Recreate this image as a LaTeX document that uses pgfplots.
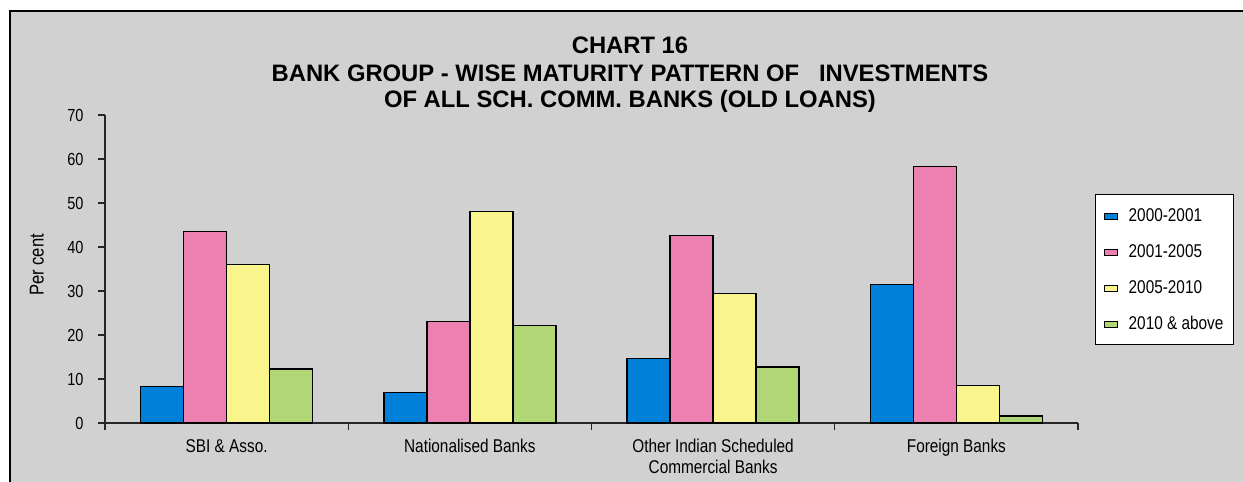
\documentclass[border=0pt]{standalone}
\usepackage{pgfplots}
\pgfplotsset{compat=1.18}
\usepackage{fontspec}
\setmainfont{Liberation Sans}
\newfontfamily\narrow[FakeStretch=0.83]{Liberation Sans}
\definecolor{bg}{RGB}{209,209,209}
\definecolor{cblue}{RGB}{0,128,216}
\definecolor{cpink}{RGB}{236,128,176}
\definecolor{cyellow}{RGB}{250,244,140}
\definecolor{cgreen}{RGB}{176,214,118}
\begin{document}
\begin{tikzpicture}[x=1pt,y=1pt]
\clip (0,0) rectangle (1243,482);
\fill[white] (0,0) rectangle (1243,482);
\draw[black, line width=1.5pt, fill=bg] (10,471) rectangle (1260,-20);
\node[anchor=base, font=\fontsize{23.8}{26}\selectfont\bfseries] at (630,428) {CHART 16};
\node[anchor=base, font=\fontsize{23.8}{26}\selectfont\bfseries] at (630,400) {BANK GROUP - WISE MATURITY PATTERN OF\ \ \ INVESTMENTS};
\node[anchor=base, font=\fontsize{23.8}{26}\selectfont\bfseries] at (630,374) {OF ALL SCH. COMM. BANKS (OLD LOANS)};
\begin{axis}[
  at={(105pt,59pt)}, anchor=south west,
  scale only axis, width=973pt, height=308pt,
  ymin=0, ymax=70, xmin=-0.5, xmax=3.5,
  ytick={0,10,...,70},
  xtick={-0.5,0.5,1.5,2.5,3.5},
  xticklabels={,,,,},
  extra x ticks={0,1,2,3},
  extra x tick labels={SBI \& Asso.,Nationalised Banks,{Other Indian Scheduled\\Commercial Banks},Foreign Banks},
  extra x tick style={major tick length=0pt, tick label style={align=center, font=\narrow\fontsize{18.5}{20.5}\selectfont, yshift=-13pt}},
  axis x line=bottom, axis y line=left,
  axis line style={-, line width=1.2pt, black!85},
  tick style={line width=1.2pt, black!85},
  tick align=outside, major tick length=7pt,
  /pgf/number format/assume math mode=true,
  yticklabel style={font=\narrow\fontsize{17.5}{19}\selectfont, xshift=-11pt},
  ylabel={Per cent},
  every axis y label/.style={at={(axis description cs:-0.07,0.513)}, rotate=90, anchor=center, font=\narrow\fontsize{20}{22}\selectfont},
  ybar=0pt, bar width=43pt,
  legend style={at={(1.0175,0.7435)}, anchor=north west, fill=white, draw=black, line width=1.2pt,
    font=\narrow\fontsize{18.5}{20}\selectfont, row sep=18pt, inner xsep=8pt, inner ysep=12pt,
    cells={anchor=west}, nodes={inner sep=2pt, text height=12.5pt, text depth=1.5pt}},
  legend image code/.code={\draw[#1, line width=0.8pt] (0pt,-4pt) rectangle (13pt,2pt); \path (22pt,0pt);},
]
\addplot[fill=cblue, draw=black, line width=1.3pt] coordinates {(0,8.25) (1,7.0) (2,14.7) (3,31.5)};
\addplot[fill=cpink, draw=black, line width=1.3pt] coordinates {(0,43.5) (1,23.0) (2,42.6) (3,58.3)};
\addplot[fill=cyellow, draw=black, line width=1.3pt] coordinates {(0,36.1) (1,48.0) (2,29.5) (3,8.6)};
\addplot[fill=cgreen, draw=black, line width=1.3pt] coordinates {(0,12.3) (1,22.1) (2,12.7) (3,1.6)};
\legend{2000-2001,2001-2005,2005-2010,2010 \& above}
\end{axis}
\end{tikzpicture}
\end{document}
